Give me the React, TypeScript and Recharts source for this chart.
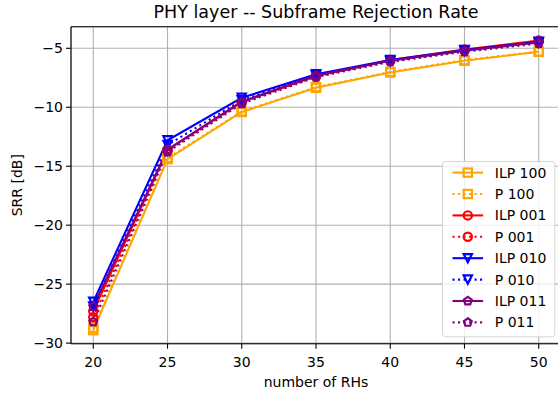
import React from 'react';
import { LineChart, Line, XAxis, YAxis, CartesianGrid, ReferenceLine } from 'recharts';

const rhCounts = [20, 25, 30, 35, 40, 45, 50];
const ilp100 = [-28.9, -14.4, -10.4, -8.35, -7.05, -6.05, -5.3];
const p100 = [-28.7, -14.3, -10.35, -8.3, -7.0, -6.0, -5.28];
const ilp001 = [-27.3, -13.6, -9.5, -7.35, -6.0, -5.1, -4.35];
const p001 = [-27.8, -13.7, -9.6, -7.4, -6.05, -5.15, -4.4];
const ilp010 = [-26.5, -12.8, -9.2, -7.2, -6.0, -5.15, -4.45];
const p010 = [-26.9, -13.2, -9.4, -7.3, -6.1, -5.2, -4.5];
const ilp011 = [-26.9, -13.6, -9.55, -7.3, -6.05, -5.2, -4.5];
const p011 = [-28.2, -13.8, -9.7, -7.45, -6.15, -5.3, -4.6];

const seriesLabels = ['ILP 100', 'P 100', 'ILP 001', 'P 001', 'ILP 010', 'P 010', 'ILP 011', 'P 011'];
const seriesValues = [ilp100, p100, ilp001, p001, ilp010, p010, ilp011, p011];
const seriesColors = ['#FFA500', '#FFA500', '#FF0000', '#FF0000', '#0000FF', '#0000FF', '#800080', '#800080'];
const seriesMarkers = ['square', 'square', 'circle', 'circle', 'triDown', 'triDown', 'pentagon', 'pentagon'];
const seriesDotted = [false, true, false, true, false, true, false, true];

const xTicks = [20, 25, 30, 35, 40, 45, 50];
const yTicks = [-30, -25, -20, -15, -10, -5];
const xDomain = [18.5, 51.5];
const yDomain = [-30.05, -3.17];

const titleText = 'PHY layer -- Subframe Rejection Rate';
const xLabelText = 'number of RHs';
const yLabelText = 'SRR [dB]';

const FONT = '"DejaVu Sans", sans-serif';
const LW = 2.08;
const MS = 8.3;
const MEW = 2.2;
const DOTTED = `${LW} ${1.65 * LW}`;

const data = rhCounts.map((x, i) => {
  const row: any = { x };
  seriesValues.forEach((vals, s) => {
    row[`s${s}`] = vals[i];
  });
  return row;
});

function Marker({ shape, cx, cy, color }: { shape: string; cx: number; cy: number; color: string }) {
  const h = MS / 2;
  const common = { fill: 'none', stroke: color, strokeWidth: MEW, strokeLinejoin: 'miter' as const };
  if (cx == null || cy == null || isNaN(cx) || isNaN(cy)) return null;
  if (shape === 'square') {
    return <rect x={cx - h} y={cy - h} width={MS} height={MS} {...common} />;
  }
  if (shape === 'circle') {
    return <circle cx={cx} cy={cy} r={h} {...common} />;
  }
  if (shape === 'triDown') {
    return <polygon points={`${cx - h},${cy - h} ${cx + h},${cy - h} ${cx},${cy + h}`} {...common} />;
  }
  const pts: string[] = [];
  for (let k = 0; k < 5; k++) {
    const a = ((-90 + 72 * k) * Math.PI) / 180;
    pts.push(`${cx + h * Math.cos(a)},${cy + h * Math.sin(a)}`);
  }
  return <polygon points={pts.join(' ')} {...common} />;
}

const fmt = (v: number) => (v < 0 ? `\u2212${Math.abs(v)}` : `${v}`);

const XLabel = (props: any) => {
  const vb = props.viewBox || { x: 71, y: 343.7, width: 490, height: 40 };
  return (
    <text x={vb.x + vb.width / 2} y={vb.y + 43.3} textAnchor="middle" fontFamily={FONT} fontSize={14} fill="#000">
      {xLabelText}
    </text>
  );
};

const YLabel = (props: any) => {
  const vb = props.viewBox || { x: 11, y: 26.7, width: 60, height: 317 };
  const cx = vb.x + 5.7;
  const cy = vb.y + vb.height / 2;
  return (
    <text
      transform={`translate(${cx}, ${cy}) rotate(-90)`}
      textAnchor="middle"
      dy="0.36em"
      fontFamily={FONT}
      fontSize={14}
      fill="#000"
    >
      {yLabelText}
    </text>
  );
};

function LegendBox() {
  const rowH = 21.4;
  const top0 = 11.6;
  return (
    <svg
      width={114}
      height={177}
      style={{ position: 'absolute', left: 442.2, top: 161.2, overflow: 'visible' }}
    >
      <rect x={0.5} y={0.5} width={112.3} height={175.3} rx={3} ry={3} fill="rgba(255,255,255,0.8)" stroke="#d5d5d5" strokeWidth={1} />
      {seriesLabels.map((name, i) => {
        const cy = top0 + i * rowH;
        return (
          <g key={name}>
            <line
              x1={10.5}
              x2={41.1}
              y1={cy}
              y2={cy}
              stroke={seriesColors[i]}
              strokeWidth={LW}
              strokeDasharray={seriesDotted[i] ? DOTTED : undefined}
            />
            <Marker shape={seriesMarkers[i]} cx={25.8} cy={cy} color={seriesColors[i]} />
            <text x={52.8} y={cy} dy="0.36em" fontFamily={FONT} fontSize={14} fill="#000">
              {name}
            </text>
          </g>
        );
      })}
    </svg>
  );
}

export default function App() {
  return (
    <div
      style={{
        position: 'fixed',
        left: 0,
        top: 0,
        width: 558,
        height: 399,
        overflow: 'hidden',
        background: '#fff',
        fontFamily: FONT,
      }}
    >
      <div
        style={{
          position: 'absolute',
          left: 71,
          width: 490,
          top: 3.6,
          textAlign: 'center',
          fontSize: 17.5,
          lineHeight: 1,
          color: '#000',
          whiteSpace: 'nowrap',
        }}
      >
        {titleText}
      </div>
      <div style={{ position: 'absolute', left: 0, top: 0 }}>
        <LineChart width={570} height={399} data={data} margin={{ top: 26.7, right: 9, bottom: 15.3, left: 11 }}>
          <CartesianGrid stroke="#b0b0b0" strokeWidth={1.1} />
          <XAxis
            dataKey="x"
            type="number"
            domain={xDomain}
            ticks={xTicks}
            interval={0}
            height={40}
            tickSize={5}
            tickMargin={8}
            tickFormatter={fmt}
            axisLine={{ stroke: '#000', strokeWidth: 1.1 }}
            tickLine={{ stroke: '#000', strokeWidth: 1.1 }}
            tick={{ fill: '#000', fontSize: 14, fontFamily: FONT }}
            label={<XLabel />}
            allowDataOverflow
          />
          <YAxis
            type="number"
            domain={yDomain}
            ticks={yTicks}
            interval={0}
            width={60}
            tickSize={5}
            tickMargin={3}
            tickFormatter={fmt}
            axisLine={{ stroke: '#000', strokeWidth: 1.1 }}
            tickLine={{ stroke: '#000', strokeWidth: 1.1 }}
            tick={{ fill: '#000', fontSize: 14, fontFamily: FONT }}
            label={<YLabel />}
            allowDataOverflow
          />
          <ReferenceLine y={yDomain[1]} stroke="#000" strokeWidth={1.1} />
          <ReferenceLine x={xDomain[1]} stroke="#000" strokeWidth={1.1} />
          {seriesLabels.map((name, i) => (
            <Line
              key={name}
              name={name}
              dataKey={`s${i}`}
              type="linear"
              stroke={seriesColors[i]}
              strokeWidth={LW}
              strokeDasharray={seriesDotted[i] ? DOTTED : undefined}
              isAnimationActive={false}
              activeDot={false}
              dot={(p: any) => (
                <Marker key={`m-${i}-${p.index}`} shape={seriesMarkers[i]} cx={p.cx} cy={p.cy} color={seriesColors[i]} />
              )}
            />
          ))}
        </LineChart>
      </div>
      <LegendBox />
    </div>
  );
}
